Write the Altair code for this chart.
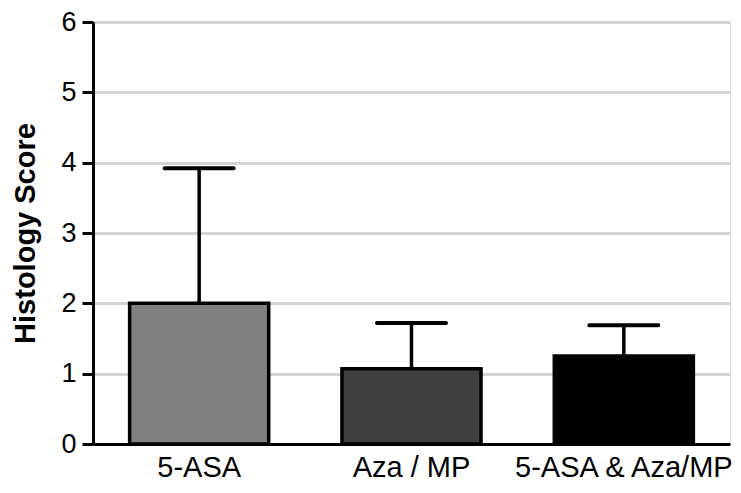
import altair as alt
import pandas as pd

groups = ["5-ASA", "Aza / MP", "5-ASA & Aza/MP"]
means = [2.0, 1.07, 1.25]
errors = [1.92, 0.65, 0.44]
fills = ["#808080", "#404040", "#000000"]

df = pd.DataFrame({
    "group": groups,
    "mean": means,
    "upper": [m + e for m, e in zip(means, errors)],
    "fill": fills,
})

x = alt.X("group:N", sort=groups, title=None,
          scale=alt.Scale(paddingInner=0.345, paddingOuter=0.1725),
          axis=alt.Axis(labelAngle=0, labelAlign="center", labelLimit=0, ticks=False,
                        domainColor="black", domainWidth=3,
                        labelFont="Liberation Sans", labelFontSize=29, labelColor="black",
                        labelPadding=9, grid=False))
y_axis = alt.Axis(values=[0, 1, 2, 3, 4, 5, 6], format="d", grid=True, gridColor="#d4d4d4",
                  gridWidth=3, domainColor="black", domainWidth=3, tickColor="black",
                  tickWidth=3, tickSize=11, labelFont="Liberation Sans", labelFontSize=27,
                  labelColor="black", labelPadding=6, title="Histology Score",
                  titleFont="Liberation Sans", titleFontSize=29, titleFontWeight="bold",
                  titleColor="black", titlePadding=20)
yscale = alt.Scale(domain=[0, 6], nice=False)
y = alt.Y("mean:Q", scale=yscale, axis=y_axis)

base = alt.Chart(df)

stem = base.mark_rule(color="black", strokeWidth=3.5).encode(
    x=x, y=y, y2="upper:Q")
cap = base.mark_tick(color="black", opacity=1, size=73, thickness=4, cornerRadius=2).encode(
    x=x, y=alt.Y("upper:Q", scale=yscale, axis=y_axis))
bars = base.mark_bar(stroke="black", strokeWidth=3.5, opacity=1).encode(
    x=x, y=y, fill=alt.Fill("fill:N", scale=None))

chart = alt.layer(stem, cap, bars).properties(
    width=637, height=422,
    autosize=alt.AutoSizeParams(type="none"),
    padding={"left": 85, "top": 14, "right": 3, "bottom": 40},
).configure_view(stroke=None).configure(background="white")

chart.save("out.html", embed_options={"renderer": "svg", "actions": False})
